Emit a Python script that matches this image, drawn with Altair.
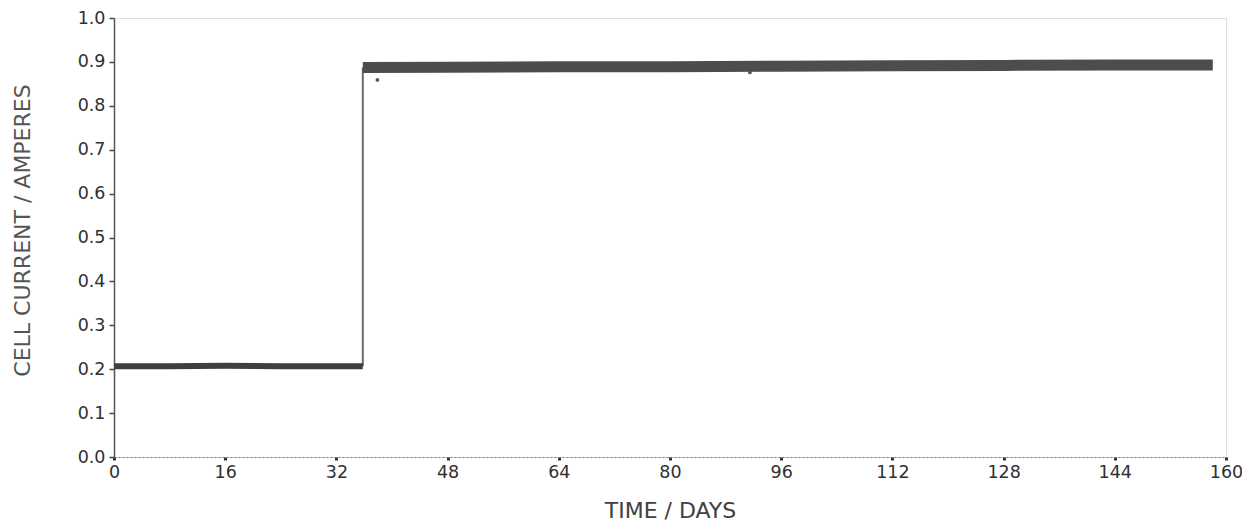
import altair as alt
import pandas as pd

# ---- data ----
low_days = [0, 8, 16, 24, 32, 35.8]
low_current = [0.207, 0.207, 0.208, 0.207, 0.207, 0.207]

step_days = [35.8, 35.8]
step_current = [0.207, 0.887]

high_days = [35.8, 48, 64, 80, 96, 112, 128, 144, 158.1]
high_current = [0.887, 0.888, 0.889, 0.889, 0.890, 0.891, 0.892, 0.893, 0.893]

spot_days = [37.9, 91.5]
spot_current = [0.859, 0.876]

x_ticks = [0, 16, 32, 48, 64, 80, 96, 112, 128, 144, 160]
y_ticks = [0.0, 0.1, 0.2, 0.3, 0.4, 0.5, 0.6, 0.7, 0.8, 0.9, 1.0]

low_df = pd.DataFrame({"day": low_days, "current": low_current})
step_df = pd.DataFrame({"day": step_days, "current": step_current})
high_df = pd.DataFrame({"day": high_days, "current": high_current})
spot_df = pd.DataFrame({"day": spot_days, "current": spot_current})

FONT = "DejaVu Sans"
W, H = 1112, 439

xs = alt.Scale(domain=[0, 160], nice=False, zero=True)
ys = alt.Scale(domain=[0, 1], nice=False)

x_axis = alt.Axis(
    title="TIME / DAYS", values=x_ticks, grid=False,
    labelFont=FONT, labelFontSize=17.5, labelColor="#303030",
    labelBaseline="middle", labelPadding=12, labelFlush=False,
    tickSize=3, tickWidth=3, tickColor="#333",
    domainColor="#777", domainDash=[2, 2], domainWidth=1.2,
    titleFont=FONT, titleFontSize=22, titleFontWeight="normal", titleColor="#404040",
    titleX=W / 2, titleY=53, titleBaseline="middle", titleAlign="center",
)
y_axis = alt.Axis(
    title="CELL CURRENT / AMPERES", values=y_ticks, format=".1f", grid=False,
    labelFont=FONT, labelFontSize=17.5, labelColor="#303030",
    labelPadding=4, labelFlush=False,
    tickSize=5, tickWidth=1.5, tickColor="#444",
    domainColor="#555", domainWidth=1.5,
    titleFont=FONT, titleFontSize=22, titleFontWeight="normal", titleColor="#555",
    titleX=-92, titleY=212, titleBaseline="middle", titleAlign="center", titleAngle=-90,
)

base_x = alt.X("day:Q", scale=xs, axis=x_axis)
base_y = alt.Y("current:Q", scale=ys, axis=y_axis)

step = alt.Chart(step_df).mark_line(color="#6a6a6a", strokeWidth=2, strokeCap="butt").encode(
    x=base_x, y=base_y
)
low = alt.Chart(low_df).mark_line(color="#3f3f3f", strokeWidth=6, strokeCap="butt").encode(
    x=alt.X("day:Q", scale=xs), y=alt.Y("current:Q", scale=ys)
)
high = alt.Chart(high_df).mark_line(color="#4d4d4d", strokeWidth=11, strokeCap="butt").encode(
    x=alt.X("day:Q", scale=xs), y=alt.Y("current:Q", scale=ys)
)
spots = alt.Chart(spot_df).mark_circle(color="#555", size=14, opacity=1).encode(
    x=alt.X("day:Q", scale=xs), y=alt.Y("current:Q", scale=ys)
)

chart = (
    alt.layer(step, low, high, spots)
    .properties(
        width=W, height=H,
        autosize=alt.AutoSizeParams(type="none"),
        padding={"left": 106, "top": 10, "right": 16, "bottom": 66},
    )
    .configure_view(stroke="#8a8a8a", strokeDash=[2, 2], strokeWidth=1.2)
    .configure(background="white")
)

chart.save("out.html", embed_options={"renderer": "svg", "actions": False})
